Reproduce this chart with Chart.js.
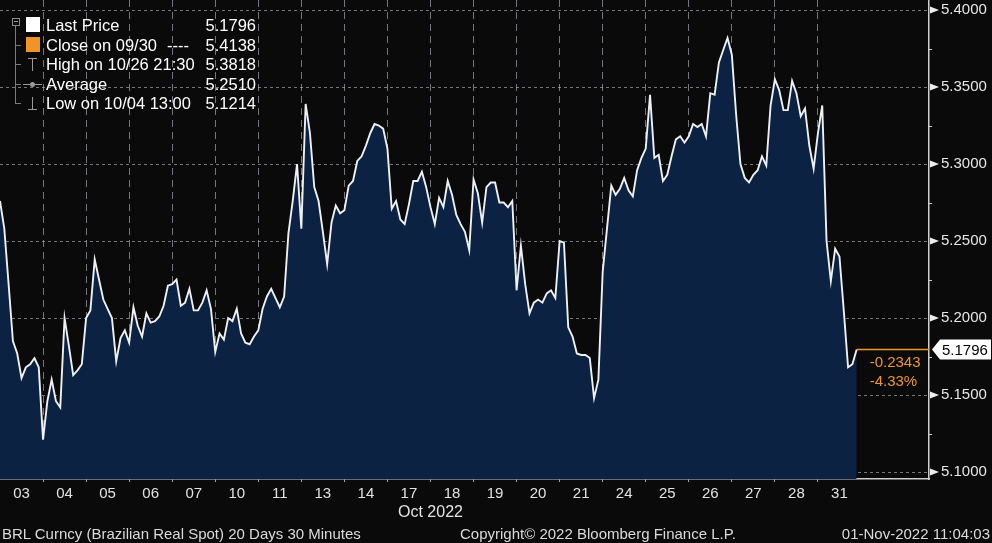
<!DOCTYPE html>
<html><head><meta charset="utf-8">
<script src="https://cdn.jsdelivr.net/npm/chart.js@4.4.0/dist/chart.umd.min.js"></script>
<style>
html,body{margin:0;padding:0;background:#0a0a0a;}
#wrap{position:relative;width:992px;height:543px;overflow:hidden;background:#0a0a0a;font-family:"Liberation Sans",Arial,sans-serif;}
#c{position:absolute;left:0;top:0;}
.t{position:absolute;white-space:nowrap;color:#ffffff;font-size:16.5px;line-height:20px;}
.v{position:absolute;white-space:nowrap;color:#ffffff;font-size:16.5px;line-height:20px;text-align:right;width:80px;left:176px;}
.f{position:absolute;white-space:nowrap;color:#dadada;font-size:15px;line-height:18px;top:525px;}
.ic{position:absolute;background:#9a9a9a;}
</style></head>
<body><div id="wrap">
<canvas id="c" width="992" height="543"></canvas>
<div id="legend"></div>
<div class="f" style="left:2px">BRL Curncy (Brazilian Real Spot) 20 Days 30 Minutes</div>
<div class="f" style="left:460px">Copyright© 2022 Bloomberg Finance L.P.</div>
<div class="f" style="right:2px">01-Nov-2022 11:04:03</div>
</div>
<script>
// ---- data ----
const days = ['03','04','05','06','07','10','11','13','14','17','18','19','20','21','24','25','26','27','28','31'];
const monthLabel = 'Oct 2022';
const d03 = [5.276, 5.258, 5.222, 5.185, 5.177, 5.161, 5.168, 5.170, 5.174, 5.168];
const d04 = [5.121, 5.146, 5.160, 5.146, 5.142, 5.200, 5.182, 5.163, 5.166, 5.170];
const d05 = [5.200, 5.205, 5.238, 5.225, 5.212, 5.206, 5.200, 5.172, 5.187, 5.192];
const d06 = [5.184, 5.207, 5.195, 5.188, 5.203, 5.197, 5.198, 5.201, 5.208, 5.221];
const d07 = [5.222, 5.225, 5.208, 5.210, 5.219, 5.205, 5.205, 5.210, 5.218, 5.206];
const d10 = [5.178, 5.190, 5.186, 5.200, 5.198, 5.206, 5.190, 5.184, 5.183, 5.188];
const d11 = [5.192, 5.206, 5.214, 5.219, 5.213, 5.207, 5.214, 5.255, 5.276, 5.300];
const d13 = [5.258, 5.339, 5.320, 5.285, 5.276, 5.256, 5.235, 5.262, 5.273, 5.268];
const d14 = [5.270, 5.286, 5.289, 5.302, 5.305, 5.312, 5.320, 5.326, 5.325, 5.323];
const d17 = [5.310, 5.271, 5.276, 5.264, 5.261, 5.274, 5.289, 5.289, 5.295, 5.285];
const d18 = [5.272, 5.261, 5.278, 5.272, 5.289, 5.280, 5.267, 5.261, 5.256, 5.244];
const d19 = [5.290, 5.281, 5.262, 5.285, 5.288, 5.288, 5.275, 5.275, 5.272, 5.276];
const d20 = [5.218, 5.247, 5.222, 5.203, 5.210, 5.212, 5.210, 5.216, 5.218, 5.213];
const d21 = [5.250, 5.249, 5.194, 5.188, 5.177, 5.176, 5.176, 5.174, 5.148, 5.160];
const d24 = [5.230, 5.258, 5.286, 5.280, 5.284, 5.291, 5.283, 5.279, 5.296, 5.304];
const d25 = [5.310, 5.345, 5.304, 5.306, 5.289, 5.293, 5.305, 5.316, 5.318, 5.314];
const d26 = [5.318, 5.326, 5.324, 5.326, 5.318, 5.346, 5.345, 5.366, 5.374, 5.3818];
const d27 = [5.371, 5.332, 5.300, 5.291, 5.288, 5.293, 5.296, 5.305, 5.299, 5.338];
const d28 = [5.355, 5.348, 5.335, 5.335, 5.354, 5.346, 5.331, 5.336, 5.312, 5.297];
const d31 = [5.320, 5.338, 5.250, 5.224, 5.245, 5.240, 5.205, 5.168, 5.170, 5.1796];
const dayPrices = [d03,d04,d05,d06,d07,d10,d11,d13,d14,d17,d18,d19,d20,d21,d24,d25,d26,d27,d28,d31];
const yTickValues = [5.10, 5.15, 5.20, 5.25, 5.30, 5.35, 5.40];
const yMinorValues = [5.125, 5.175, 5.225, 5.275, 5.325, 5.375];
const yMin = 5.0955, yMax = 5.4065;
const xMax = 21.58; // visible day slots incl. right margin
const lastPrice = 5.1796, prevClose = 5.4138, highVal = 5.3818, avgVal = 5.2510, lowVal = 5.1214;
const netChange = -0.2343, pctChange = -4.33;

// ---- legend (HTML text) ----
const legendRows = [
  {label:'Last Price', value:lastPrice, icon:'white'},
  {label:'Close on 09/30', extra:'----', value:prevClose, icon:'orange'},
  {label:'High on 10/26 21:30', value:highVal, icon:'high'},
  {label:'Average', value:avgVal, icon:'avg'},
  {label:'Low on 10/04 13:00', value:lowVal, icon:'low'}
];
const rowCenters = [25, 45, 64, 84, 103];
let html = '';
html += '<div style="position:absolute;left:12px;top:18px;width:6px;height:6px;border:1px solid #8a8a8a;"></div>';
html += '<div class="ic" style="left:14px;top:21px;width:4px;height:1px;"></div>';
html += '<div class="ic" style="left:15px;top:26px;width:1px;height:78px;background:#7a7a7a"></div>';
legendRows.forEach((r, i) => {
  const cy = rowCenters[i];
  if (i > 0) html += `<div class="ic" style="left:15px;top:${cy}px;width:6px;height:1px;background:#7a7a7a"></div>`;
  if (r.icon === 'white') html += `<div style="position:absolute;left:26px;top:${cy-8}px;width:14px;height:15px;background:#ffffff"></div>`;
  if (r.icon === 'orange') html += `<div style="position:absolute;left:26px;top:${cy-8}px;width:14px;height:15px;background:#f0942a"></div>`;
  if (r.icon === 'high') html += `<div class="ic" style="left:28px;top:${cy-6}px;width:9px;height:1px"></div><div class="ic" style="left:32px;top:${cy-6}px;width:1px;height:13px"></div>`;
  if (r.icon === 'low') html += `<div class="ic" style="left:28px;top:${cy+6}px;width:9px;height:1px"></div><div class="ic" style="left:32px;top:${cy-6}px;width:1px;height:13px"></div>`;
  if (r.icon === 'avg') html += `<div class="ic" style="left:23px;top:${cy}px;width:19px;height:1px"></div><div class="ic" style="left:30px;top:${cy-2}px;width:5px;height:5px;border-radius:3px"></div>`;
  html += `<div class="t" style="left:46px;top:${cy-10}px">${r.label}</div>`;
  if (r.extra) html += `<div class="t" style="left:167px;top:${cy-10}px">${r.extra}</div>`;
  html += `<div class="v" style="top:${cy-10}px">${r.value.toFixed(4)}</div>`;
});
document.getElementById('legend').innerHTML = html;

// ---- points ----
const pts = [];
dayPrices.forEach((arr, d) => arr.forEach((v, i) => pts.push({x: d + i / arr.length, y: v})));
const lastX = pts[pts.length - 1].x;

const FONT = 'Liberation Sans';
const annot = {
  id: 'annot',
  beforeDraw(chart) {
    const c = chart.ctx; c.save(); c.fillStyle = '#0a0a0a'; c.fillRect(0, 0, chart.width, chart.height); c.restore();
  },
  afterDraw(chart) {
    const {ctx, chartArea: a, scales: {x, y}} = chart;
    ctx.save();
    ctx.fillStyle = '#ececec';
    yTickValues.forEach(v => {
      const py = y.getPixelForValue(v);
      ctx.beginPath(); ctx.moveTo(a.right + 1, py - 3.5); ctx.lineTo(a.right + 10, py); ctx.lineTo(a.right + 1, py + 3.5); ctx.closePath(); ctx.fill();
    });
    ctx.strokeStyle = '#d0d0d0'; ctx.lineWidth = 1;
    yMinorValues.forEach(v => {
      const py = Math.round(y.getPixelForValue(v)) + 0.5;
      ctx.beginPath(); ctx.moveTo(a.right, py); ctx.lineTo(a.right + 3, py); ctx.stroke();
    });
    const lx = x.getPixelForValue(lastX), ly = y.getPixelForValue(lastPrice);
    ctx.strokeStyle = '#f29a2e'; ctx.lineWidth = 1.5;
    ctx.beginPath(); ctx.moveTo(lx, ly); ctx.lineTo(a.right, ly); ctx.stroke();
    ctx.fillStyle = '#ee9530'; ctx.font = '15px "' + FONT + '"'; ctx.textAlign = 'left'; ctx.textBaseline = 'middle';
    ctx.fillText(netChange.toFixed(4), lx + 13, ly + 13);
    ctx.fillText(pctChange.toFixed(2) + '%', lx + 13, ly + 32);
    ctx.fillStyle = '#ffffff';
    ctx.beginPath();
    ctx.moveTo(a.right + 3, ly); ctx.lineTo(a.right + 11, ly - 10); ctx.lineTo(chart.width - 1, ly - 10);
    ctx.lineTo(chart.width - 1, ly + 10); ctx.lineTo(a.right + 11, ly + 10); ctx.closePath(); ctx.fill();
    ctx.fillStyle = '#000000'; ctx.font = '15px "' + FONT + '"';
    ctx.fillText(lastPrice.toFixed(4), a.right + 13, ly + 1);
    ctx.fillStyle = '#e2e2e2'; ctx.textAlign = 'center'; ctx.font = '16px "' + FONT + '"';
    ctx.fillText(monthLabel, x.getPixelForValue(days.length / 2), a.bottom + 34);
    ctx.restore();
  }
};

new Chart(document.getElementById('c'), {
  type: 'line',
  data: {datasets: [{
    data: pts, borderColor: '#eef0f3', borderWidth: 1.9, backgroundColor: '#0b2242',
    fill: 'start', pointRadius: 0, tension: 0
  }]},
  options: {
    responsive: false, animation: false, devicePixelRatio: 1,
    layout: {padding: 0, autoPadding: false},
    plugins: {legend: {display: false}, tooltip: {enabled: false}},
    scales: {
      x: {
        type: 'linear', position: 'bottom', min: 0, max: xMax, bounds: 'data', z: 1,
        afterBuildTicks(s) {
          const t = [];
          for (let d = 0; d < days.length; d++) { if (d > 0) t.push({value: d}); t.push({value: d + 0.5}); }
          s.ticks = t;
        },
        afterFit(s) { s.height = 64; s.paddingLeft = 0; s.paddingRight = 0; },
        ticks: {
          autoSkip: false, maxRotation: 0, minRotation: 0, padding: 3, color: '#e2e2e2',
          font: {family: FONT, size: 15},
          callback: (v) => { const i = v - 0.5; return Number.isInteger(i) ? days[i] : ''; }
        },
        grid: {
          color: (c) => (c.tick && Number.isInteger(c.tick.value)) ? 'rgba(185,190,200,0.6)' : 'rgba(0,0,0,0)',
          tickColor: (c) => (c.tick && Number.isInteger(c.tick.value)) ? 'rgba(200,200,200,0.8)' : 'rgba(0,0,0,0)',
          lineWidth: 1, tickLength: 3, drawTicks: true
        },
        border: {display: true, color: '#cfcfcf', width: 1.5, dash: [7, 5]}
      },
      y: {
        position: 'right', min: yMin, max: yMax, bounds: 'data', z: 1,
        afterBuildTicks(s) { s.ticks = yTickValues.map(v => ({value: v})); },
        afterFit(s) { s.width = 63; s.paddingTop = 0; s.paddingBottom = 0; },
        ticks: {padding: 12, color: '#e6e6e6', font: {family: FONT, size: 15}, callback: (v) => Number(v).toFixed(4)},
        grid: {color: 'rgba(185,190,200,0.6)', drawTicks: false, lineWidth: 1},
        border: {display: true, color: '#cfcfcf', width: 1.5, dash: [3, 3]}
      }
    }
  },
  plugins: [annot]
});
</script>
</body></html>
